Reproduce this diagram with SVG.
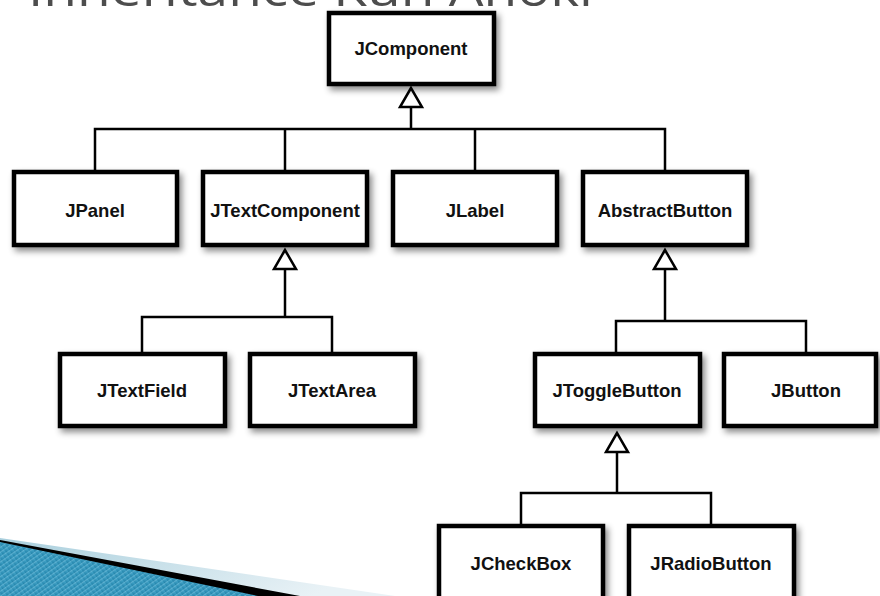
<svg xmlns="http://www.w3.org/2000/svg" width="880" height="596" viewBox="0 0 880 596">
  <defs>
    <filter id="sh" x="-20%" y="-20%" width="140%" height="150%">
      <feDropShadow dx="3" dy="4" stdDeviation="3" flood-color="#000" flood-opacity="0.45"/>
    </filter>
    <linearGradient id="pale" x1="0" y1="0" x2="1" y2="0.3">
      <stop offset="0" stop-color="#a9cfdd"/>
      <stop offset="1" stop-color="#e9f2f6"/>
    </linearGradient>
    <linearGradient id="blue" x1="0" y1="0" x2="1" y2="1">
      <stop offset="0" stop-color="#4fb0d3"/>
      <stop offset="1" stop-color="#1f7fa6"/>
    </linearGradient>
    <pattern id="stripes" width="4" height="4" patternUnits="userSpaceOnUse" patternTransform="rotate(55)">
      <rect width="4" height="4" fill="url(#blue)"/>
      <line x1="0" y1="0" x2="0" y2="4" stroke="#ffffff" stroke-opacity="0.18" stroke-width="1.5"/>
    </pattern>
    <style>
      .box { fill: #ffffff; stroke: #000000; stroke-width: 4.5; filter: url(#sh); }
      .lbl { font-family: "Liberation Sans", Arial, sans-serif; font-weight: bold; font-size: 18.5px; fill: #111111; text-anchor: middle; }
      .con { fill: none; stroke: #000000; stroke-width: 2.5; }
      .tri { fill: #ffffff; stroke: #000000; stroke-width: 2.5; stroke-linejoin: miter; }
      .title { font-family: "Open Sans", "Liberation Sans", sans-serif; font-size: 46px; fill: #4d4d4d; }
    </style>
  </defs>
  <rect width="880" height="596" fill="#ffffff"/>

  <text class="title" x="28" y="6" textLength="565" lengthAdjust="spacingAndGlyphs">Inheritance Kun Anoki</text>

  <!-- decorative swoosh -->
  <g id="swoosh">
    <polygon points="0,538 395,596 0,596" fill="url(#pale)"/>
    <polygon points="0,540 300,596 0,596" fill="#000000"/>
    <polygon points="0,542 258,596 0,596" fill="url(#stripes)"/>
  </g>

  <g id="connectors">
    <polyline class="con" points="411,107 411,129"/>
    <polyline class="con" points="95,171 95,129 665,129 665,171"/>
    <polyline class="con" points="285,129 285,171"/>
    <polyline class="con" points="475,129 475,171"/>

    <polyline class="con" points="285,269 285,317"/>
    <polyline class="con" points="142,353 142,317 332,317 332,353"/>

    <polyline class="con" points="665,269 665,321"/>
    <polyline class="con" points="616,353 616,321 806,321 806,353"/>

    <polyline class="con" points="617,452 617,493"/>
    <polyline class="con" points="521,525 521,493 711,493 711,525"/>

    <polygon class="tri" points="411,88 400,107 422,107"/>
    <polygon class="tri" points="285,250 274,269 296,269"/>
    <polygon class="tri" points="665,250 654,269 676,269"/>
    <polygon class="tri" points="617,433 606,452 628,452"/>
  </g>

  <g id="JComponent">
    <rect class="box" x="329" y="13" width="165" height="71"/>
    <text class="lbl" x="411" y="55">JComponent</text>
  </g>
  <g id="JPanel">
    <rect class="box" x="14" y="172" width="163" height="73"/>
    <text class="lbl" x="95" y="216.5">JPanel</text>
  </g>
  <g id="JTextComponent">
    <rect class="box" x="203" y="172" width="164" height="73"/>
    <text class="lbl" x="285" y="216.5">JTextComponent</text>
  </g>
  <g id="JLabel">
    <rect class="box" x="393" y="172" width="164" height="73"/>
    <text class="lbl" x="475" y="216.5">JLabel</text>
  </g>
  <g id="AbstractButton">
    <rect class="box" x="583" y="172" width="164" height="73"/>
    <text class="lbl" x="665" y="216.5">AbstractButton</text>
  </g>
  <g id="JTextField">
    <rect class="box" x="60" y="354" width="165" height="72"/>
    <text class="lbl" x="142" y="396.5">JTextField</text>
  </g>
  <g id="JTextArea">
    <rect class="box" x="250" y="354" width="165" height="72"/>
    <text class="lbl" x="332" y="396.5">JTextArea</text>
  </g>
  <g id="JToggleButton">
    <rect class="box" x="535" y="354" width="165" height="72"/>
    <text class="lbl" x="617" y="396.5">JToggleButton</text>
  </g>
  <g id="JButton">
    <rect class="box" x="724" y="354" width="152" height="72"/>
    <text class="lbl" x="806" y="396.5">JButton</text>
  </g>
  <g id="JCheckBox">
    <rect class="box" x="439" y="526" width="164" height="80"/>
    <text class="lbl" x="521" y="569.5">JCheckBox</text>
  </g>
  <g id="JRadioButton">
    <rect class="box" x="629" y="526" width="165" height="80"/>
    <text class="lbl" x="711" y="569.5">JRadioButton</text>
  </g>
</svg>
